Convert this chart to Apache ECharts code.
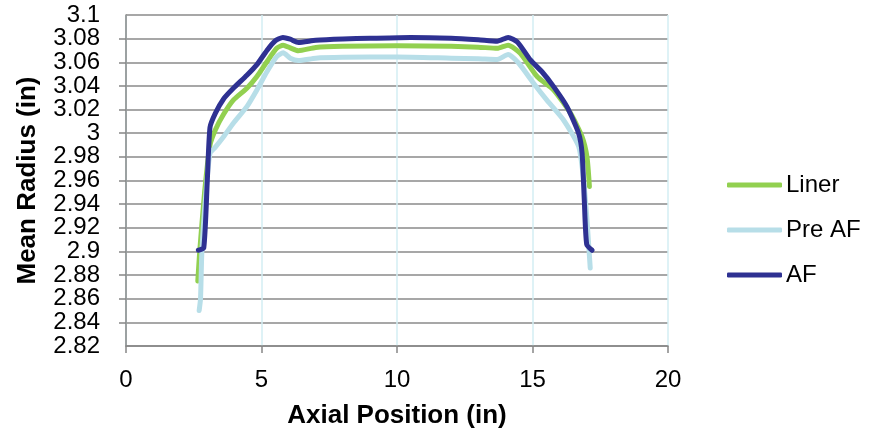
<!DOCTYPE html>
<html>
<head>
<meta charset="utf-8">
<script src="https://cdn.jsdelivr.net/npm/echarts@6/dist/echarts.min.js"></script>
<style>
html,body{margin:0;padding:0;background:#fff;}
#chart{width:885px;height:441px;}
</style>
</head>
<body>
<div id="chart"></div>
<script>
const seriesNames = ['Liner', 'Pre AF', 'AF'];
const xTicks = [0, 5, 10, 15, 20];
const yTicks = [2.82, 2.84, 2.86, 2.88, 2.9, 2.92, 2.94, 2.96, 2.98, 3, 3.02, 3.04, 3.06, 3.08, 3.1];

const liner = [
  [2.65, 2.875], [2.72, 2.90], [2.9, 2.95], [3.1, 2.99], [3.3, 3.003], [3.6, 3.016],
  [3.96, 3.028], [4.46, 3.038], [4.83, 3.048], [5.2, 3.0605], [5.56, 3.0718],
  [5.8, 3.0745], [6.06, 3.0722], [6.36, 3.0698], [7.0, 3.0725], [8.0, 3.0735],
  [10.0, 3.074], [12.0, 3.0735], [13.0, 3.0728], [13.7, 3.0718], [14.1, 3.0745],
  [14.55, 3.0676], [15.17, 3.048], [15.78, 3.0366], [16.4, 3.017], [16.83, 2.997],
  [17.01, 2.98], [17.1, 2.955]
];
const preAF = [
  [2.70, 2.850], [2.75, 2.86], [2.8, 2.90], [2.95, 2.95], [3.1, 2.983], [3.29, 2.988],
  [3.6, 2.997], [3.96, 3.0085], [4.46, 3.0225], [4.83, 3.0366], [5.2, 3.052],
  [5.56, 3.0648], [5.8, 3.068], [6.06, 3.0635], [6.36, 3.0615], [7.0, 3.0635],
  [8.0, 3.0642], [10.0, 3.0645], [12.0, 3.0635], [13.0, 3.063], [13.7, 3.0624],
  [14.1, 3.0665], [14.5, 3.059], [15.04, 3.0423], [15.53, 3.028], [16.15, 3.011],
  [16.7, 2.989], [16.86, 2.966], [17.0, 2.93], [17.13, 2.886]
];
const af = [
  [2.67, 2.901], [2.87, 2.903], [3.0, 2.96], [3.1, 3.005], [3.3, 3.017], [3.6, 3.029],
  [3.96, 3.038], [4.46, 3.049], [4.83, 3.058], [5.2, 3.070], [5.5, 3.078],
  [5.79, 3.081], [6.06, 3.0795], [6.36, 3.0768], [7.0, 3.0786], [8.0, 3.0797],
  [9.0, 3.0803], [10.5, 3.081], [12.0, 3.0803], [13.0, 3.079], [13.7, 3.0778],
  [14.1, 3.081], [14.45, 3.077], [14.92, 3.062], [15.35, 3.052], [15.78, 3.0394],
  [16.27, 3.0225], [16.70, 3.000], [16.83, 2.983], [16.91, 2.944], [17.0, 2.906],
  [17.2, 2.901]
];
const colors = ['#92D050', '#B7DEE8', '#2E3192'];
const dataSets = [liner, preAF, af];

const font = "'Liberation Sans', Arial, Helvetica, sans-serif";
const yMin = yTicks[0], yMax = yTicks[yTicks.length - 1];
const fmt = v => String(+v.toFixed(2));
const isEnd = v => Math.abs(v - yMin) < 1e-6 || Math.abs(v - yMax) < 1e-6;

const chart = echarts.init(document.getElementById('chart'), null, {renderer: 'canvas'});
chart.setOption({
  animation: false,
  backgroundColor: '#ffffff',
  grid: {left: 126, right: 217, top: 15, bottom: 95},
  legend: {
    orient: 'vertical',
    left: 722,
    top: 168,
    itemWidth: 55,
    itemHeight: 5,
    itemGap: 21,
    selectedMode: false,
    icon: 'roundRect',
    data: seriesNames,
    textStyle: {fontFamily: font, fontSize: 24, color: '#000', lineHeight: 24, padding: [0, 0, 0, -1]}
  },
  xAxis: {
    type: 'value',
    min: xTicks[0],
    max: xTicks[xTicks.length - 1],
    interval: 5,
    name: 'Axial Position (in)',
    nameLocation: 'middle',
    nameGap: 57,
    nameTextStyle: {fontFamily: font, fontSize: 26, fontWeight: 'bold', color: '#000'},
    axisLine: {show: true, lineStyle: {color: '#868686', width: 1.5}},
    axisTick: {show: true, length: 7, inside: false, lineStyle: {color: '#868686', width: 1.5}},
    axisLabel: {fontFamily: font, fontSize: 24, color: '#000', margin: 22, showMinLabel: true, showMaxLabel: true, hideOverlap: false},
    splitLine: {show: true, lineStyle: {color: '#d3eef3', width: 1.5}}
  },
  yAxis: [{
    type: 'value',
    position: 'left',
    min: yMin,
    max: yMax,
    interval: 0.02,
    name: 'Mean Radius (in)',
    nameLocation: 'middle',
    nameGap: 85,
    nameRotate: 90,
    nameTextStyle: {fontFamily: font, fontSize: 26, fontWeight: 'bold', color: '#000'},
    axisLine: {show: true, lineStyle: {color: '#868686', width: 1.5}},
    axisTick: {show: true, length: 7, lineStyle: {color: '#868686', width: 1.5}},
    axisLabel: {
      fontFamily: font, fontSize: 24, color: '#000', margin: 26,
      showMinLabel: false, showMaxLabel: false, hideOverlap: false,
      formatter: v => isEnd(v) ? '' : fmt(v)
    },
    splitLine: {show: true, lineStyle: {color: '#8a8a8a', width: 1.5}}
  }, {
    type: 'value',
    position: 'left',
    offset: 0,
    min: yMin,
    max: yMax,
    interval: 0.02,
    axisLine: {show: false},
    axisTick: {show: false},
    splitLine: {show: false},
    axisLabel: {
      fontFamily: font, fontSize: 24, color: '#000', margin: 26,
      showMinLabel: true, showMaxLabel: true, hideOverlap: false,
      formatter: v => isEnd(v) ? fmt(v) : ''
    }
  }],
  series: seriesNames.map((n, i) => ({
    name: n,
    type: 'line',
    yAxisIndex: 0,
    data: dataSets[i],
    showSymbol: false,
    symbol: 'none',
    smooth: 0.2,
    color: colors[i],
    lineStyle: {color: colors[i], width: 5, cap: 'round', join: 'round'},
    z: 2 + i
  }))
});
</script>
</body>
</html>
